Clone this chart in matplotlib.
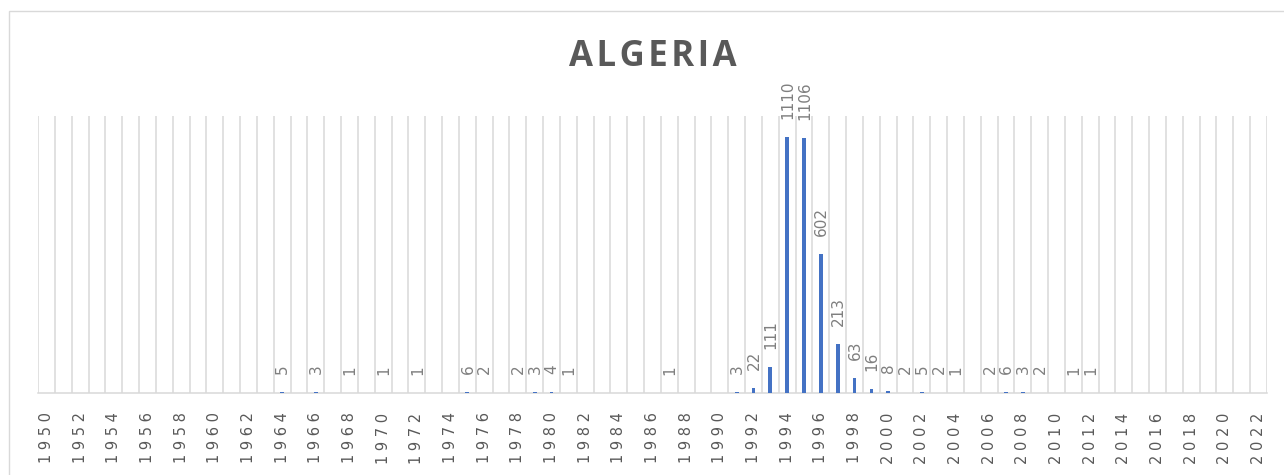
import matplotlib
matplotlib.use("Agg")
import matplotlib.pyplot as plt
from matplotlib.patches import Rectangle

years = list(range(1950, 2023))
event_years = [1964, 1966, 1968, 1970, 1972, 1975, 1976, 1978, 1979, 1980, 1981,
               1987, 1991, 1992, 1993, 1994, 1995, 1996, 1997, 1998, 1999, 2000,
               2001, 2002, 2003, 2004, 2006, 2007, 2008, 2009, 2011, 2012]
event_counts = [5, 3, 1, 1, 1, 6, 2, 2, 3, 4, 1,
                1, 3, 22, 111, 1110, 1106, 602, 213, 63, 16, 8,
                2, 5, 2, 1, 2, 6, 3, 2, 1, 1]
title = "ALGERIA"

counts = {y: 0 for y in years}
for y, c in zip(event_years, event_counts):
    counts[y] = c
values = [counts[y] for y in years]

W, H = 1284, 475
fig = plt.figure(figsize=(W / 100, H / 100), dpi=100)
fig.patch.set_facecolor("white")

# chart border
fig.patches.append(Rectangle((9 / W, -0.1), 1.2, 1 - 11 / H + 0.1,
                             transform=fig.transFigure, fill=False,
                             edgecolor="#d9d9d9", linewidth=1.0))

ax = fig.add_axes([38 / W, (H - 393) / H, (1267 - 38) / W, (393 - 116) / H])
x = list(range(len(years)))
ax.bar(x, values, width=0.22, color="#4472C4", zorder=3)
ax.set_xlim(-0.5, len(years) - 0.5)
ax.set_ylim(0, 1200)

# category boundary gridlines
for i in range(len(years) + 1):
    ax.axvline(i - 0.5, color="#d9d9d9", linewidth=1.1, zorder=1)

for s in ["top", "left", "right"]:
    ax.spines[s].set_visible(False)
ax.spines["bottom"].set_color("#d9d9d9")
ax.spines["bottom"].set_linewidth(1.1)
ax.set_yticks([])

tick_pos = [i for i, y in enumerate(years) if y % 2 == 0]
tick_lab = [" ".join(str(years[i])) for i in tick_pos]
ax.set_xticks(tick_pos)
ax.set_xticklabels(tick_lab, rotation=90, fontsize=10.5, color="#595959",
                   va="top", ha="center")
ax.tick_params(axis="x", length=0, pad=14)

for i, v in enumerate(values):
    if v > 0:
        ax.annotate(str(v), (i, v), xytext=(0.5, 13), textcoords="offset points",
                    rotation=90, ha="center", va="bottom", fontsize=11,
                    color="#7f7f7f", annotation_clip=False)

fig.text(653 / W, 1 - 57 / H, "\u200a".join(title), fontsize=25, fontweight="bold",
         family=["Open Sans", "DejaVu Sans"], color="#595959",
         ha="center", va="center")

fig.savefig("out.png", dpi=100)
